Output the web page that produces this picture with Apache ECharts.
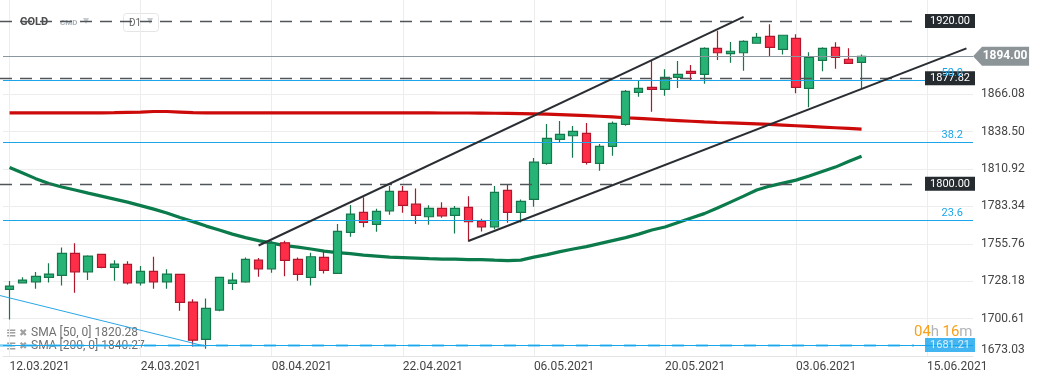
<!DOCTYPE html>
<html><head><meta charset="utf-8">
<script src="https://cdn.jsdelivr.net/npm/echarts@6/dist/echarts.min.js"></script>
<style>html,body{margin:0;padding:0;background:#fff}#c{width:1041px;height:380px}</style>
</head><body><div id="c"></div>
<script>
// ---- categories (trading days + future slots) ----
const monthDays = [
  ['03', [10,11,12,15,16,17,18,19,22,23,24,25,26,29,30,31]],
  ['04', [1,5,6,7,8,9,12,13,14,15,16,19,20,21,22,23,26,27,28,29,30]],
  ['05', [3,4,5,6,7,10,11,12,13,14,17,18,19,20,21,24,25,26,27,28,31]],
  ['06', [1,2,3,4,7,8,9,10,11,14,15,16,17,18,21,22]]
];
const dates = [];
monthDays.forEach(([m, ds]) => ds.forEach(d => dates.push((d < 10 ? '0' + d : '' + d) + '.' + m + '.2021')));

const xTickLabels = ['12.03.2021','24.03.2021','08.04.2021','22.04.2021','06.05.2021','20.05.2021','03.06.2021','15.06.2021'];
const yTickLabels = [1673.03,1700.61,1728.18,1755.76,1783.34,1810.92,1838.50,1866.08];

// ---- OHLC ----
const opens  = [1722.1,1727.0,1727.7,1731.0,1732.5,1748.7,1735.1,1747.9,1738.4,1740.6,
                1727.0,1735.4,1727.7,1733.2,1712.8,1685.3,1706.9,1726.5,1727.7,1743.7,
                1737.3,1756.5,1744.3,1731.0,1745.7,1733.9,1764.2,1778.9,1770.1,1780.1,
                1794.4,1785.0,1775.7,1781.9,1776.7,1782.6,1772.5,1768.3,1795.1,1778.9,
                1788.5,1815.1,1832.8,1835.4,1837.2,1815.1,1827.6,1843.8,1867.4,1871.1,
                1869.6,1878.5,1882.9,1880.7,1899.9,1895.9,1896.6,1903.6,1908.7,1899.1,
                1907.2,1870.4,1891.0,1900.6,1891.8,1889.5];
const closes = [1724.6,1729.0,1731.7,1733.4,1748.7,1735.1,1746.7,1738.4,1740.8,1727.0,
                1735.4,1727.7,1733.4,1712.5,1684.7,1708.1,1731.0,1729.0,1744.3,1737.3,
                1756.1,1743.5,1733.2,1746.2,1736.1,1764.9,1777.7,1771.5,1779.7,1794.4,
                1784.1,1776.7,1781.9,1776.4,1781.9,1772.0,1768.3,1793.7,1778.9,1787.0,
                1816.0,1833.5,1836.4,1838.7,1815.8,1827.6,1844.6,1868.2,1870.4,1869.6,
                1878.5,1880.7,1881.4,1899.9,1896.6,1897.7,1905.0,1908.0,1900.6,1909.5,
                1871.1,1893.2,1899.9,1893.2,1888.8,1894.0];
const highs  = [1728.3,1731.0,1734.9,1741.5,1753.1,1756.1,1747.4,1748.5,1743.7,1742.8,
                1739.3,1746.2,1736.9,1733.5,1714.8,1715.5,1731.5,1734.4,1745.7,1745.2,
                1758.0,1758.0,1745.7,1749.1,1750.2,1770.3,1784.3,1790.0,1781.6,1798.3,
                1798.3,1796.6,1784.1,1786.3,1783.6,1790.9,1774.2,1798.3,1799.8,1788.5,
                1819.0,1844.0,1846.3,1842.6,1844.8,1829.3,1846.0,1869.1,1876.0,1890.7,
                1884.4,1890.5,1887.5,1900.6,1912.8,1904.5,1905.8,1911.2,1917.6,1909.7,
                1910.2,1896.9,1900.6,1904.3,1899.9,1895.4];
const lows   = [1700.0,1726.6,1722.6,1727.3,1725.1,1719.6,1729.0,1737.8,1728.5,1725.8,
                1725.1,1722.6,1722.6,1706.3,1679.8,1678.3,1706.0,1721.6,1727.0,1731.4,
                1734.4,1731.9,1728.5,1725.1,1733.9,1733.5,1760.9,1767.9,1764.6,1777.1,
                1778.6,1770.3,1769.8,1775.0,1763.4,1757.5,1764.9,1766.4,1771.2,1771.5,
                1783.0,1814.0,1830.8,1819.2,1814.3,1809.6,1820.7,1842.8,1864.2,1853.1,
                1864.9,1870.6,1876.5,1873.8,1891.2,1889.2,1883.3,1903.3,1894.0,1895.4,
                1866.7,1856.4,1882.9,1884.8,1888.8,1870.4];

// ---- moving averages ----
const sma50  = [1812.0,1807.9,1803.8,1800.2,1797.6,1795.4,1793.1,1790.9,1788.7,1786.5,
                1783.9,1781.3,1778.4,1775.1,1772.1,1768.8,1765.9,1762.9,1760.3,1758.1,
                1756.3,1754.4,1753.3,1751.9,1750.4,1749.3,1748.5,1747.4,1746.7,1745.9,
                1745.6,1745.2,1744.8,1744.5,1744.5,1744.1,1744.1,1743.7,1743.4,1743.7,
                1745.9,1747.8,1750.0,1751.9,1753.7,1755.9,1758.1,1760.3,1762.9,1765.9,
                1768.1,1771.4,1774.7,1778.0,1782.1,1786.5,1790.9,1795.4,1798.3,1800.5,
                1802.7,1805.7,1809.0,1812.3,1816.4,1820.3];
const sma200 = [1852.3,1852.3,1852.3,1852.3,1852.3,1852.3,1852.3,1852.3,1852.4,1852.6,
                1852.8,1853.3,1853.3,1852.9,1852.5,1852.3,1852.3,1852.3,1852.3,1852.3,
                1852.3,1852.3,1852.3,1852.3,1852.3,1852.3,1852.3,1852.3,1852.3,1852.3,
                1852.3,1852.3,1852.3,1852.2,1852.2,1852.2,1852.1,1852.0,1851.9,1851.7,
                1851.5,1851.3,1851.0,1850.6,1850.2,1849.8,1849.3,1848.7,1848.2,1847.7,
                1847.1,1846.6,1846.1,1845.6,1845.2,1844.9,1844.6,1844.2,1843.8,1843.3,
                1842.8,1842.3,1841.8,1841.3,1840.8,1840.3];
const smaLegend = [['SMA [50, 0]', 1820.28], ['SMA [200, 0]', 1840.27]];

// ---- levels / drawings (category index, price) ----
const dashedLevels = [1920.00, 1877.82, 1800.00];
const lastPrice = 1894.00;
const fibLevels = [['50.0', 1876.1], ['38.2', 1830.5], ['23.6', 1773.0]];
const fibBase = 1681.21;
const upperChannel = [[19, 1754.5], [56, 1923.1]];
const lowerChannel = [[35, 1757.8], [73, 1899.8]];
const fibTrend = [[0, 1717.6], [15, 1680.1]];
const levelEndIndex = 69;
const countdown = ['04', '16'];

const UP = '#27b376', UP_B = '#17774c', DN = '#ff2e48', DN_B = '#b0172d';
const FIB = '#1ba5ea';

const chart = echarts.init(document.getElementById('c'), null, {renderer: 'canvas'});

const tagLabel = (bg, txt) => ({
  show: true, position: 'end', distance: 11, formatter: txt,
  backgroundColor: bg, color: '#fff', fontSize: 11, lineHeight: 12,
  padding: [1, 5, 1, 5], fontFamily: 'Roboto'
});

const levelLines = [];
dashedLevels.forEach(v => levelLines.push([
  {coord: [0, v], x: 0, lineStyle: {color: '#50555a', type: [12, 8], width: 1.3}},
  {coord: [levelEndIndex, v], label: tagLabel('#262b30', v.toFixed(2))}
]));
levelLines.push([
  {coord: [0, fibBase], x: 0, lineStyle: {color: '#5cc4f5', type: [12, 12], width: 2.5, opacity: 0.8}},
  {coord: [levelEndIndex, fibBase], label: tagLabel('#14a3ec', fibBase.toFixed(2))}
]);
levelLines.push({yAxis: fibBase, lineStyle: {color: FIB, width: 1, type: 'solid'}, label: {show: false}});
levelLines.push({yAxis: lastPrice, lineStyle: {color: '#8b979f', width: 1, type: 'solid'}, label: {show: false}});
fibLevels.forEach(([n, v]) => levelLines.push({
  yAxis: v, lineStyle: {color: FIB, width: 1, type: 'solid'},
  label: {show: true, position: 'insideEndTop', formatter: n, color: FIB, fontSize: 11, distance: 2, padding: [0, 8, 0, 0]}
}));
[upperChannel, lowerChannel].forEach(seg => levelLines.push([
  {coord: seg[0], lineStyle: {color: '#2a2e33', width: 2, type: 'solid'}},
  {coord: seg[1]}
]));
levelLines.push([
  {coord: fibTrend[0], x: 0, lineStyle: {color: '#2aa6e6', width: 1, type: 'solid'}},
  {coord: fibTrend[1]}
]);

const gridLines = [];
xTickLabels.forEach((t, k) => gridLines.push({xAxis: k * 10}));
yTickLabels.forEach(v => gridLines.push({yAxis: v}));

chart.setOption({
  animation: false,
  textStyle: {fontFamily: 'Roboto'},
  grid: {left: 3, right: 68, top: 0, bottom: 24},
  xAxis: {
    type: 'category', data: dates, boundaryGap: true,
    axisLine: {lineStyle: {color: '#e4e4e4'}}, axisTick: {show: false},
    splitLine: {show: false},
    axisLabel: {
      interval: i => i % 10 === 0,
      formatter: (v, i) => xTickLabels[i / 10] || '',
      align: 'left', color: '#444', fontSize: 12, margin: 5
    }
  },
  yAxis: {
    type: 'value', position: 'right', min: 1673.03, max: 1935.5, scale: true,
    splitLine: {show: false}, axisLine: {show: false}, axisTick: {show: false},
    axisLabel: {
      customValues: yTickLabels, formatter: v => v.toFixed(2),
      color: '#444', fontSize: 12, margin: 8, verticalAlignMinLabel: 'bottom'
    }
  },
  series: [
    {
      type: 'line', data: [], z: 0, silent: true,
      markLine: {silent: true, symbol: 'none', z: 0, animation: false,
        lineStyle: {color: '#ededed', width: 1, type: 'solid'}, label: {show: false},
        data: gridLines}
    },
    {
      name: 'SMA200', type: 'line', data: sma200, showSymbol: false, z: 3,
      lineStyle: {color: '#cc0a0a', width: 3.2}
    },
    {
      name: 'SMA50', type: 'line', data: sma50, showSymbol: false, z: 3,
      lineStyle: {color: '#0b7b4c', width: 3.2}
    },
    {
      name: 'GOLD', type: 'candlestick', z: 4, barWidth: 9,
      data: opens.map((o, i) => [o, closes[i], lows[i], highs[i]]),
      itemStyle: {color: UP, color0: DN, borderColor: UP_B, borderColor0: DN_B, borderWidth: 1.2},
      markLine: {silent: true, symbol: 'none', animation: false, z: 6, data: levelLines},
      markPoint: {
        silent: true, animation: false,
        data: [{
          coord: [dates.length - 1, lastPrice],
          symbol: 'path://M0,10L9,0L56,0L56,20L9,20Z', symbolSize: [56, 19],
          symbolOffset: [34.6, 0], symbolKeepAspect: false,
          itemStyle: {color: '#8c9498'},
          label: {show: true, position: 'inside', offset: [4, 0], formatter: lastPrice.toFixed(2),
            color: '#fff', fontSize: 12, fontWeight: 'bold'}
        }]
      }
    }
  ],
  graphic: [
    {type: 'text', left: 20, top: 17, style: {text: 'GOLD', font: 'bold 11px Roboto', fill: '#4d4d4d'}},
    {type: 'text', left: 60, top: 19, style: {text: 'CMD', font: 'bold 8px Roboto', fill: '#a8b0b8'}},
    {type: 'text', left: 83, top: 15, style: {text: '▾', font: '12px "DejaVu Sans"', fill: '#c8ccd0'}},
    {type: 'rect', left: 123, top: 13, shape: {width: 35, height: 18, r: 3}, style: {fill: '#fff', stroke: '#e3e5e7'}},
    {type: 'text', left: 129, top: 18, style: {text: 'D1', font: '10px Roboto', fill: '#666'}},
    {type: 'text', left: 147, top: 15, style: {text: '▾', font: '12px "DejaVu Sans"', fill: '#c8ccd0'}},
    {type: 'text', left: 6, top: 327, style: {text: '≡', font: 'bold 13px "DejaVu Sans"', fill: '#a0a0a0'}},
    {type: 'text', left: 19, top: 328, style: {text: '✖', font: '10px "DejaVu Sans"', fill: '#a0a0a0'}},
    {type: 'text', left: 31, top: 327, style: {text: smaLegend[0][0] + ' ' + smaLegend[0][1].toFixed(2), font: '12px Roboto', fill: '#707070'}},
    {type: 'text', left: 6, top: 340, style: {text: '≡', font: 'bold 13px "DejaVu Sans"', fill: '#a0a0a0'}},
    {type: 'text', left: 19, top: 341, style: {text: '✖', font: '10px "DejaVu Sans"', fill: '#a0a0a0'}},
    {type: 'text', left: 31, top: 340, style: {text: smaLegend[1][0] + ' ' + smaLegend[1][1].toFixed(2), font: '12px Roboto', fill: '#707070'}},
    {type: 'text', left: 914, top: 325, z: 100, style: {
      text: '{o|' + countdown[0] + '}{g|h} {o|' + countdown[1] + '}{g|m}',
      rich: {o: {fontSize: 15, fill: '#f7a11c', fontFamily: 'Roboto'}, g: {fontSize: 15, fill: '#b0b4b8', fontFamily: 'Roboto'}}
    }}
  ]
});
</script>
</body></html>
